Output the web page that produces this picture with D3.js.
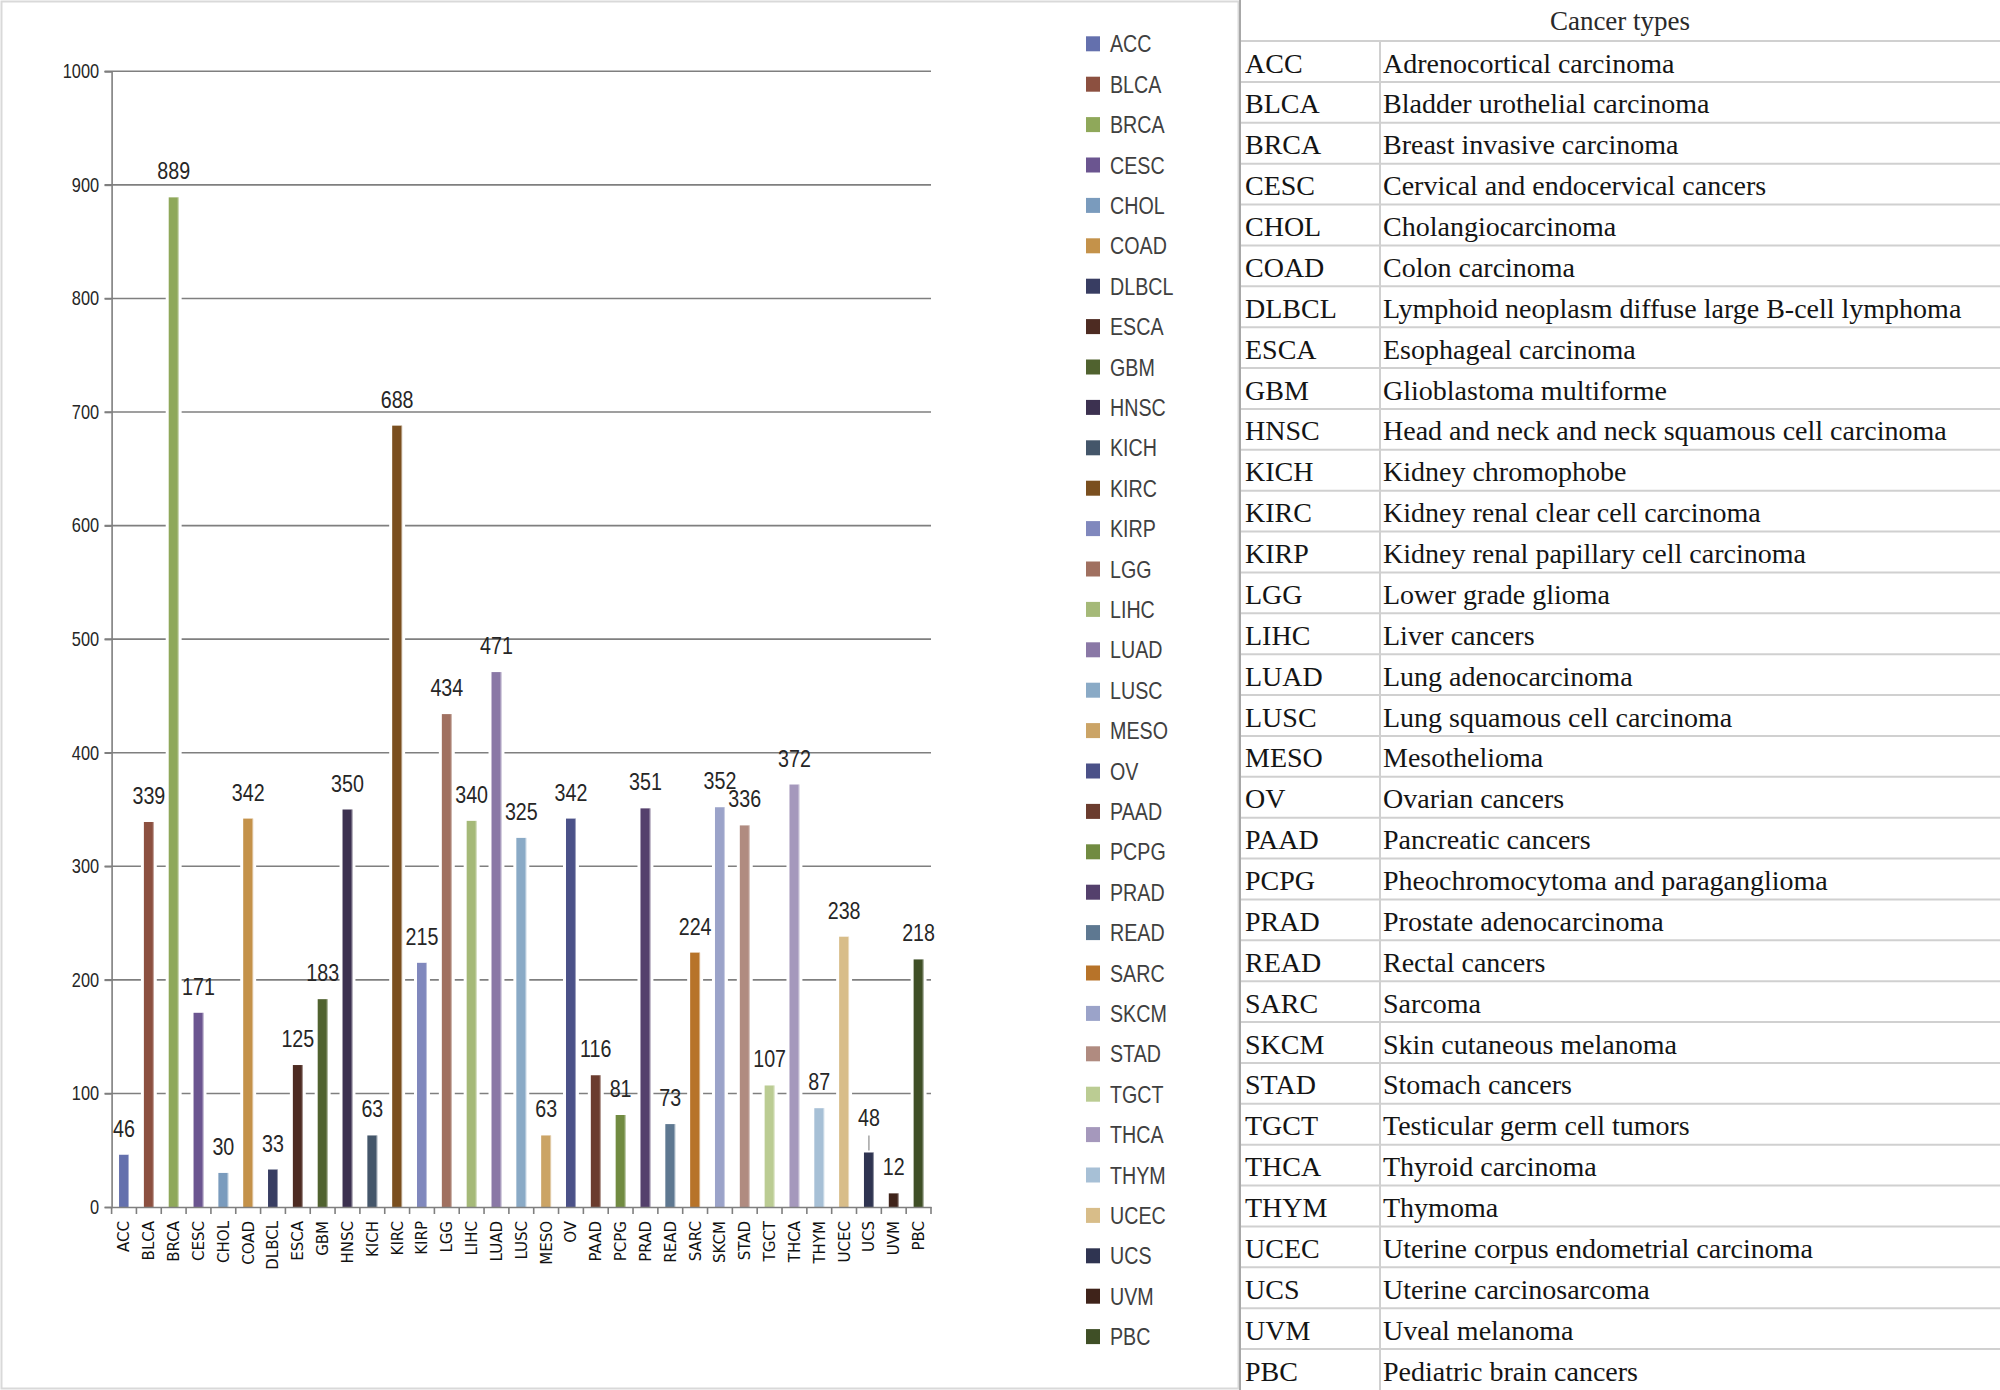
<!DOCTYPE html>
<html>
<head>
<meta charset="utf-8">
<script src="https://cdn.jsdelivr.net/npm/d3@7"></script>
<style>
  html, body { margin: 0; padding: 0; background: #fff; }
  svg { display: block; }
</style>
</head>
<body>
<svg id="chart" width="2000" height="1390"></svg>
<script>
const categories = ["ACC","BLCA","BRCA","CESC","CHOL","COAD","DLBCL","ESCA","GBM","HNSC","KICH","KIRC","KIRP","LGG","LIHC","LUAD","LUSC","MESO","OV","PAAD","PCPG","PRAD","READ","SARC","SKCM","STAD","TGCT","THCA","THYM","UCEC","UCS","UVM","PBC"];
const values = [46,339,889,171,30,342,33,125,183,350,63,688,215,434,340,471,325,63,342,116,81,351,73,224,352,336,107,372,87,238,48,12,218];
const colors = ["#6470ad","#8c5040","#8fa85a","#6b5590","#7a9bbd","#c4924a","#383d62","#4d2b22","#50622f","#3c3150","#44566a","#7a4f1f","#8088bd","#a07060","#a5b978","#8a78a6","#8aaac6","#cba466","#4b5188","#6b3c2e","#718b41","#54406c","#5e7891","#b77329","#9ba3c9","#b08b80","#bbcc93","#a598bc","#a7c0d6","#d8bd89","#2f3451","#3f231a","#3f4f26"];
const fullNames = ["Adrenocortical carcinoma","Bladder urothelial carcinoma","Breast invasive carcinoma","Cervical and endocervical cancers","Cholangiocarcinoma","Colon carcinoma","Lymphoid neoplasm diffuse large B-cell lymphoma","Esophageal carcinoma","Glioblastoma multiforme","Head and neck and neck squamous cell carcinoma","Kidney chromophobe","Kidney renal clear cell carcinoma","Kidney renal papillary cell carcinoma","Lower grade glioma","Liver cancers","Lung adenocarcinoma","Lung squamous cell carcinoma","Mesothelioma","Ovarian cancers","Pancreatic cancers","Pheochromocytoma and paraganglioma","Prostate adenocarcinoma","Rectal cancers","Sarcoma","Skin cutaneous melanoma","Stomach cancers","Testicular germ cell tumors","Thyroid carcinoma","Thymoma","Uterine corpus endometrial carcinoma","Uterine carcinosarcoma","Uveal melanoma","Pediatric brain cancers"];
const yTicks = [0,100,200,300,400,500,600,700,800,900,1000];
const tableHeader = "Cancer types";

const svg = d3.select("#chart");
const sansFont = "'Liberation Sans',Arial,sans-serif";
const serifFont = "'Liberation Serif','Times New Roman',serif";
const SX = 0.82; // horizontal condensing for the Calibri-like chart text

// chart frame
svg.append("rect").attr("x",1.5).attr("y",1.5).attr("width",1237).attr("height",1387)
  .attr("fill","none").attr("stroke","#d9d9d9").attr("stroke-width",2);

const plot = {left:111.6, right:931, top:71.3, bottom:1207};
const x = d3.scaleBand().domain(categories).range([plot.left, plot.right]).padding(0);
const y = d3.scaleLinear().domain([0,1000]).range([plot.bottom, plot.top]);
const bw = x.bandwidth()*0.4;

// gridlines
svg.append("g").selectAll("line").data(yTicks.filter(t=>t>0)).join("line")
  .attr("x1",plot.left-7).attr("x2",plot.right)
  .attr("y1",d=>y(d)).attr("y2",d=>y(d))
  .attr("stroke","#7f7f7f").attr("stroke-width",1.6);

// y axis
const yAxis = svg.append("g").attr("transform",`translate(${plot.left},0)`)
  .call(d3.axisLeft(y).tickValues(yTicks).tickSize(7).tickPadding(5).tickFormat(d3.format("d")));
yAxis.select(".domain").attr("stroke","#7f7f7f").attr("stroke-width",1.6);
yAxis.selectAll(".tick line").attr("stroke","#7f7f7f").attr("stroke-width",1.6);
yAxis.selectAll(".tick text")
  .attr("font-family",sansFont).attr("font-size",20).attr("fill","#262626")
  .attr("x",-12.5/SX).attr("transform",`scale(${SX},1)`);

// white halos behind bars
svg.append("g").selectAll("rect").data(categories).join("rect")
  .attr("x",d=>x(d)+x.bandwidth()/2-bw/2-3)
  .attr("width",bw+6)
  .attr("y",(d,i)=>y(values[i]))
  .attr("height",(d,i)=>plot.bottom-1-y(values[i]))
  .attr("fill","#fff");

// bars
svg.append("g").selectAll("rect").data(categories).join("rect")
  .attr("x",d=>x(d)+x.bandwidth()/2-bw/2)
  .attr("width",bw)
  .attr("y",(d,i)=>y(values[i]))
  .attr("height",(d,i)=>plot.bottom-y(values[i]))
  .attr("fill",(d,i)=>colors[i]);
// light right edge of bars
svg.append("g").selectAll("line").data(categories).join("line")
  .attr("x1",d=>x(d)+x.bandwidth()/2+bw/2-0.5)
  .attr("x2",d=>x(d)+x.bandwidth()/2+bw/2-0.5)
  .attr("y1",(d,i)=>y(values[i]))
  .attr("y2",plot.bottom)
  .attr("stroke","#ffffff").attr("stroke-opacity",0.45).attr("stroke-width",1);

// x axis
const xAxis = svg.append("g").attr("transform",`translate(0,${plot.bottom})`)
  .call(d3.axisBottom(x).tickSize(0).tickFormat(""));
xAxis.select(".domain").attr("stroke","#7f7f7f").attr("stroke-width",1.6);
// tick marks at band boundaries
svg.append("g").selectAll("line").data(categories.concat(["__end"])).join("line")
  .attr("x1",(d,i)=>plot.left+i*x.bandwidth()).attr("x2",(d,i)=>plot.left+i*x.bandwidth())
  .attr("y1",plot.bottom).attr("y2",plot.bottom+7)
  .attr("stroke","#7f7f7f").attr("stroke-width",1.6);
// rotated category labels
svg.append("g").selectAll("text").data(categories).join("text")
  .attr("transform",d=>`translate(${x(d)+x.bandwidth()/2},${plot.bottom+14}) rotate(-90)`)
  .attr("text-anchor","end").attr("dy","0.36em")
  .attr("font-family","'DejaVu Sans',Verdana,sans-serif").attr("font-size",15).attr("fill","#111")
  .text(d=>d);

// value labels
const lbl = svg.append("g");
categories.forEach((c,i)=>{
  const cx = x(c)+x.bandwidth()/2;
  const top = y(values[i]);
  const lifted = (c==="UCS");
  const off = lifted ? 26 : 18;
  lbl.append("text").attr("transform",`translate(${cx},${top-off}) scale(${SX},1)`)
    .attr("text-anchor","middle")
    .attr("font-family",sansFont).attr("font-size",24).attr("fill","#262626")
    .text(values[i]);
  if (lifted) {
    lbl.append("line").attr("x1",cx).attr("x2",cx).attr("y1",top-17).attr("y2",top-2)
      .attr("stroke","#8c8c8c").attr("stroke-width",1.2);
  }
});

// legend
const leg = svg.append("g");
categories.forEach((c,i)=>{
  const cy = 43.8 + i*40.4;
  leg.append("rect").attr("x",1086).attr("y",cy-7.5).attr("width",14).attr("height",15).attr("fill",colors[i]);
  leg.append("text").attr("transform",`translate(1110,${cy}) scale(${SX},1)`).attr("dy","0.36em")
    .attr("font-family",sansFont).attr("font-size",24).attr("fill","#404040").text(c);
});

// table
const tbl = svg.append("g");
const tLeft = 1240, tCol = 1380, tRight = 2000, headH = 41, rowH = (1390-41)/33;
tbl.append("text").attr("x",(tLeft+tRight)/2).attr("y",30).attr("text-anchor","middle")
  .attr("font-family",serifFont).attr("font-size",27).attr("fill","#2a2a2a")
  .text(tableHeader);
categories.forEach((c,i)=>{
  const top = headH + i*rowH;
  tbl.append("line").attr("x1",tLeft).attr("x2",tRight).attr("y1",top).attr("y2",top)
    .attr("stroke","#d0d0d0").attr("stroke-width",2);
  tbl.append("text").attr("x",1245).attr("y",top+31.5)
    .attr("font-family",serifFont).attr("font-size",28).attr("fill","#141414").text(c);
  tbl.append("text").attr("x",1383).attr("y",top+31.5)
    .attr("font-family",serifFont).attr("font-size",28).attr("fill","#141414").text(fullNames[i]);
});
tbl.append("line").attr("x1",tCol).attr("x2",tCol).attr("y1",headH).attr("y2",1390)
  .attr("stroke","#d0d0d0").attr("stroke-width",2);
tbl.append("line").attr("x1",tLeft).attr("x2",tLeft).attr("y1",0).attr("y2",1390)
  .attr("stroke","#a8a8a8").attr("stroke-width",2);
</script>
</body>
</html>
